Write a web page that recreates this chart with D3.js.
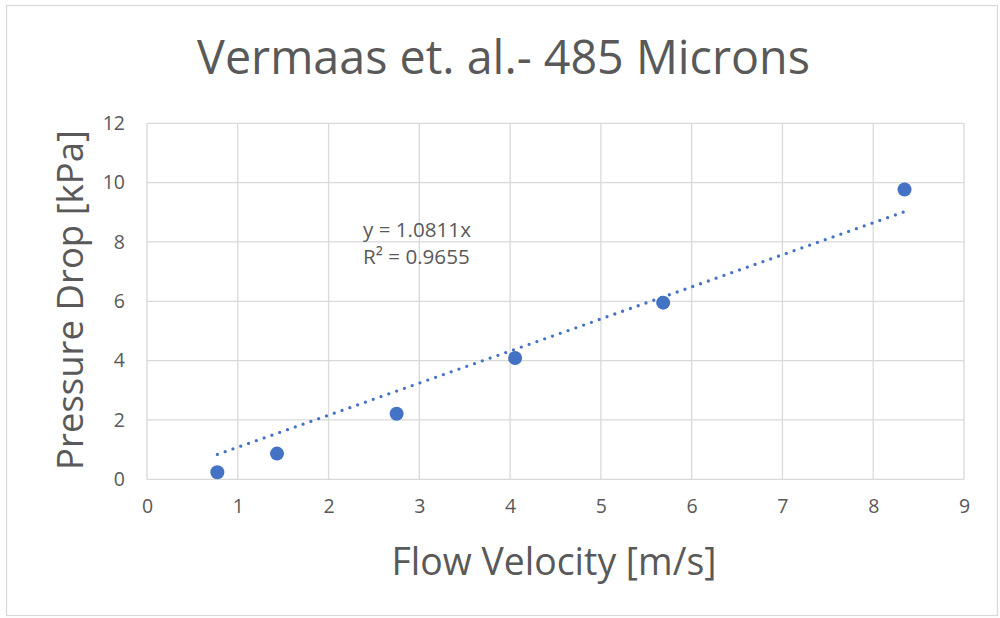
<!DOCTYPE html>
<html>
<head>
<meta charset="utf-8">
<script src="https://cdn.jsdelivr.net/npm/d3@7"></script>
<style>
  html, body { margin: 0; padding: 0; background: #fff; }
  svg { display: block; }
  text { font-family: "Open Sans", sans-serif; fill: #595959; }
</style>
</head>
<body>
<svg id="chart" width="1000" height="618"></svg>
<script>
// ---- data ----
const title = "Vermaas et. al.- 485 Microns";
const xLabel = "Flow Velocity [m/s]";
const yLabel = "Pressure Drop [kPa]";
const velocity = [0.775, 1.432, 2.75, 4.055, 5.686, 8.345];
const pressureDrop = [0.236, 0.866, 2.21, 4.09, 5.955, 9.77];
const xTicks = [0, 1, 2, 3, 4, 5, 6, 7, 8, 9];
const yTicks = [0, 2, 4, 6, 8, 10, 12];
const trendSlope = 1.0811;
const equationLines = ["y = 1.0811x", "R\u00B2 = 0.9655"];

// ---- layout ----
const W = 1000, H = 618;
const plot = { left: 147, right: 964, top: 123.3, bottom: 479.3 };
const svg = d3.select("#chart");

// outer border
svg.append("rect")
  .attr("x", 6.5).attr("y", 5.5).attr("width", 991).attr("height", 610)
  .attr("fill", "#fff").attr("stroke", "#d9d9d9").attr("stroke-width", 1.3);

const x = d3.scaleLinear().domain([0, 9]).range([plot.left, plot.right]);
const y = d3.scaleLinear().domain([0, 12]).range([plot.bottom, plot.top]);

// gridlines
const grid = svg.append("g").attr("stroke", "#d9d9d9").attr("stroke-width", 1.3);
grid.selectAll("line.h").data(yTicks).join("line").attr("class", "h")
  .attr("x1", plot.left).attr("x2", plot.right)
  .attr("y1", d => y(d)).attr("y2", d => y(d));
grid.selectAll("line.v").data(xTicks).join("line").attr("class", "v")
  .attr("y1", plot.top).attr("y2", plot.bottom)
  .attr("x1", d => x(d)).attr("x2", d => x(d));

// axes (labels only, via d3 axis)
const xAxis = svg.append("g").attr("transform", `translate(0,${plot.bottom})`)
  .call(d3.axisBottom(x).tickValues(xTicks).tickSize(0).tickPadding(20).tickFormat(d3.format("d")));
const yAxis = svg.append("g").attr("transform", `translate(${plot.left},0)`)
  .call(d3.axisLeft(y).tickValues(yTicks).tickSize(0).tickPadding(22).tickFormat(d3.format("d")));
[xAxis, yAxis].forEach(a => {
  a.select(".domain").remove();
  a.selectAll("text").attr("font-family", "Open Sans").attr("font-size", 19.5).attr("fill", "#595959");
});
xAxis.selectAll("text").attr("dy", "0.71em");

// trendline (dotted)
const xmin = d3.min(velocity), xmax = d3.max(velocity);
const x1 = x(xmin), y1 = y(trendSlope * xmin), x2 = x(xmax), y2 = y(trendSlope * xmax);
const len = Math.hypot(x2 - x1, y2 - y1);
const gap = (len / Math.round(len / 8.3)) * 0.998;
svg.append("line")
  .attr("x1", x1).attr("y1", y1).attr("x2", x2).attr("y2", y2)
  .attr("stroke", "#4472C4").attr("stroke-width", 3.3)
  .attr("stroke-linecap", "round").attr("stroke-dasharray", `0 ${gap}`);

// points
svg.append("g").selectAll("circle").data(velocity).join("circle")
  .attr("cx", d => x(d)).attr("cy", (d, i) => y(pressureDrop[i]))
  .attr("r", 7).attr("fill", "#4472C4");

// helper: fit text to width
function fit(sel, target) {
  const w = sel.node().getComputedTextLength();
  const fs = parseFloat(sel.attr("font-size"));
  sel.attr("font-size", fs * target / w);
}

// title
const t = svg.append("text").attr("x", 503.5).attr("y", 74)
  .attr("text-anchor", "middle").attr("font-size", 44).text(title);
fit(t, 613);

// x label
const xl = svg.append("text").attr("x", 554).attr("y", 575)
  .attr("text-anchor", "middle").attr("font-size", 32).text(xLabel);
fit(xl, 325);

// y label
const yl = svg.append("text").attr("transform", "translate(83,300) rotate(-90)")
  .attr("text-anchor", "middle").attr("font-size", 32).text(yLabel);
fit(yl, 340);

// equation
const eq = svg.append("g");
equationLines.forEach((s, i) => {
  const e = eq.append("text").attr("x", 363).attr("y", 236.7 + i * 27.3)
    .attr("font-size", 19).text(s);
  if (i === 0) fit(e, 108);
  else e.attr("font-size", eq.select("text").attr("font-size"));
});
</script>
</body>
</html>
